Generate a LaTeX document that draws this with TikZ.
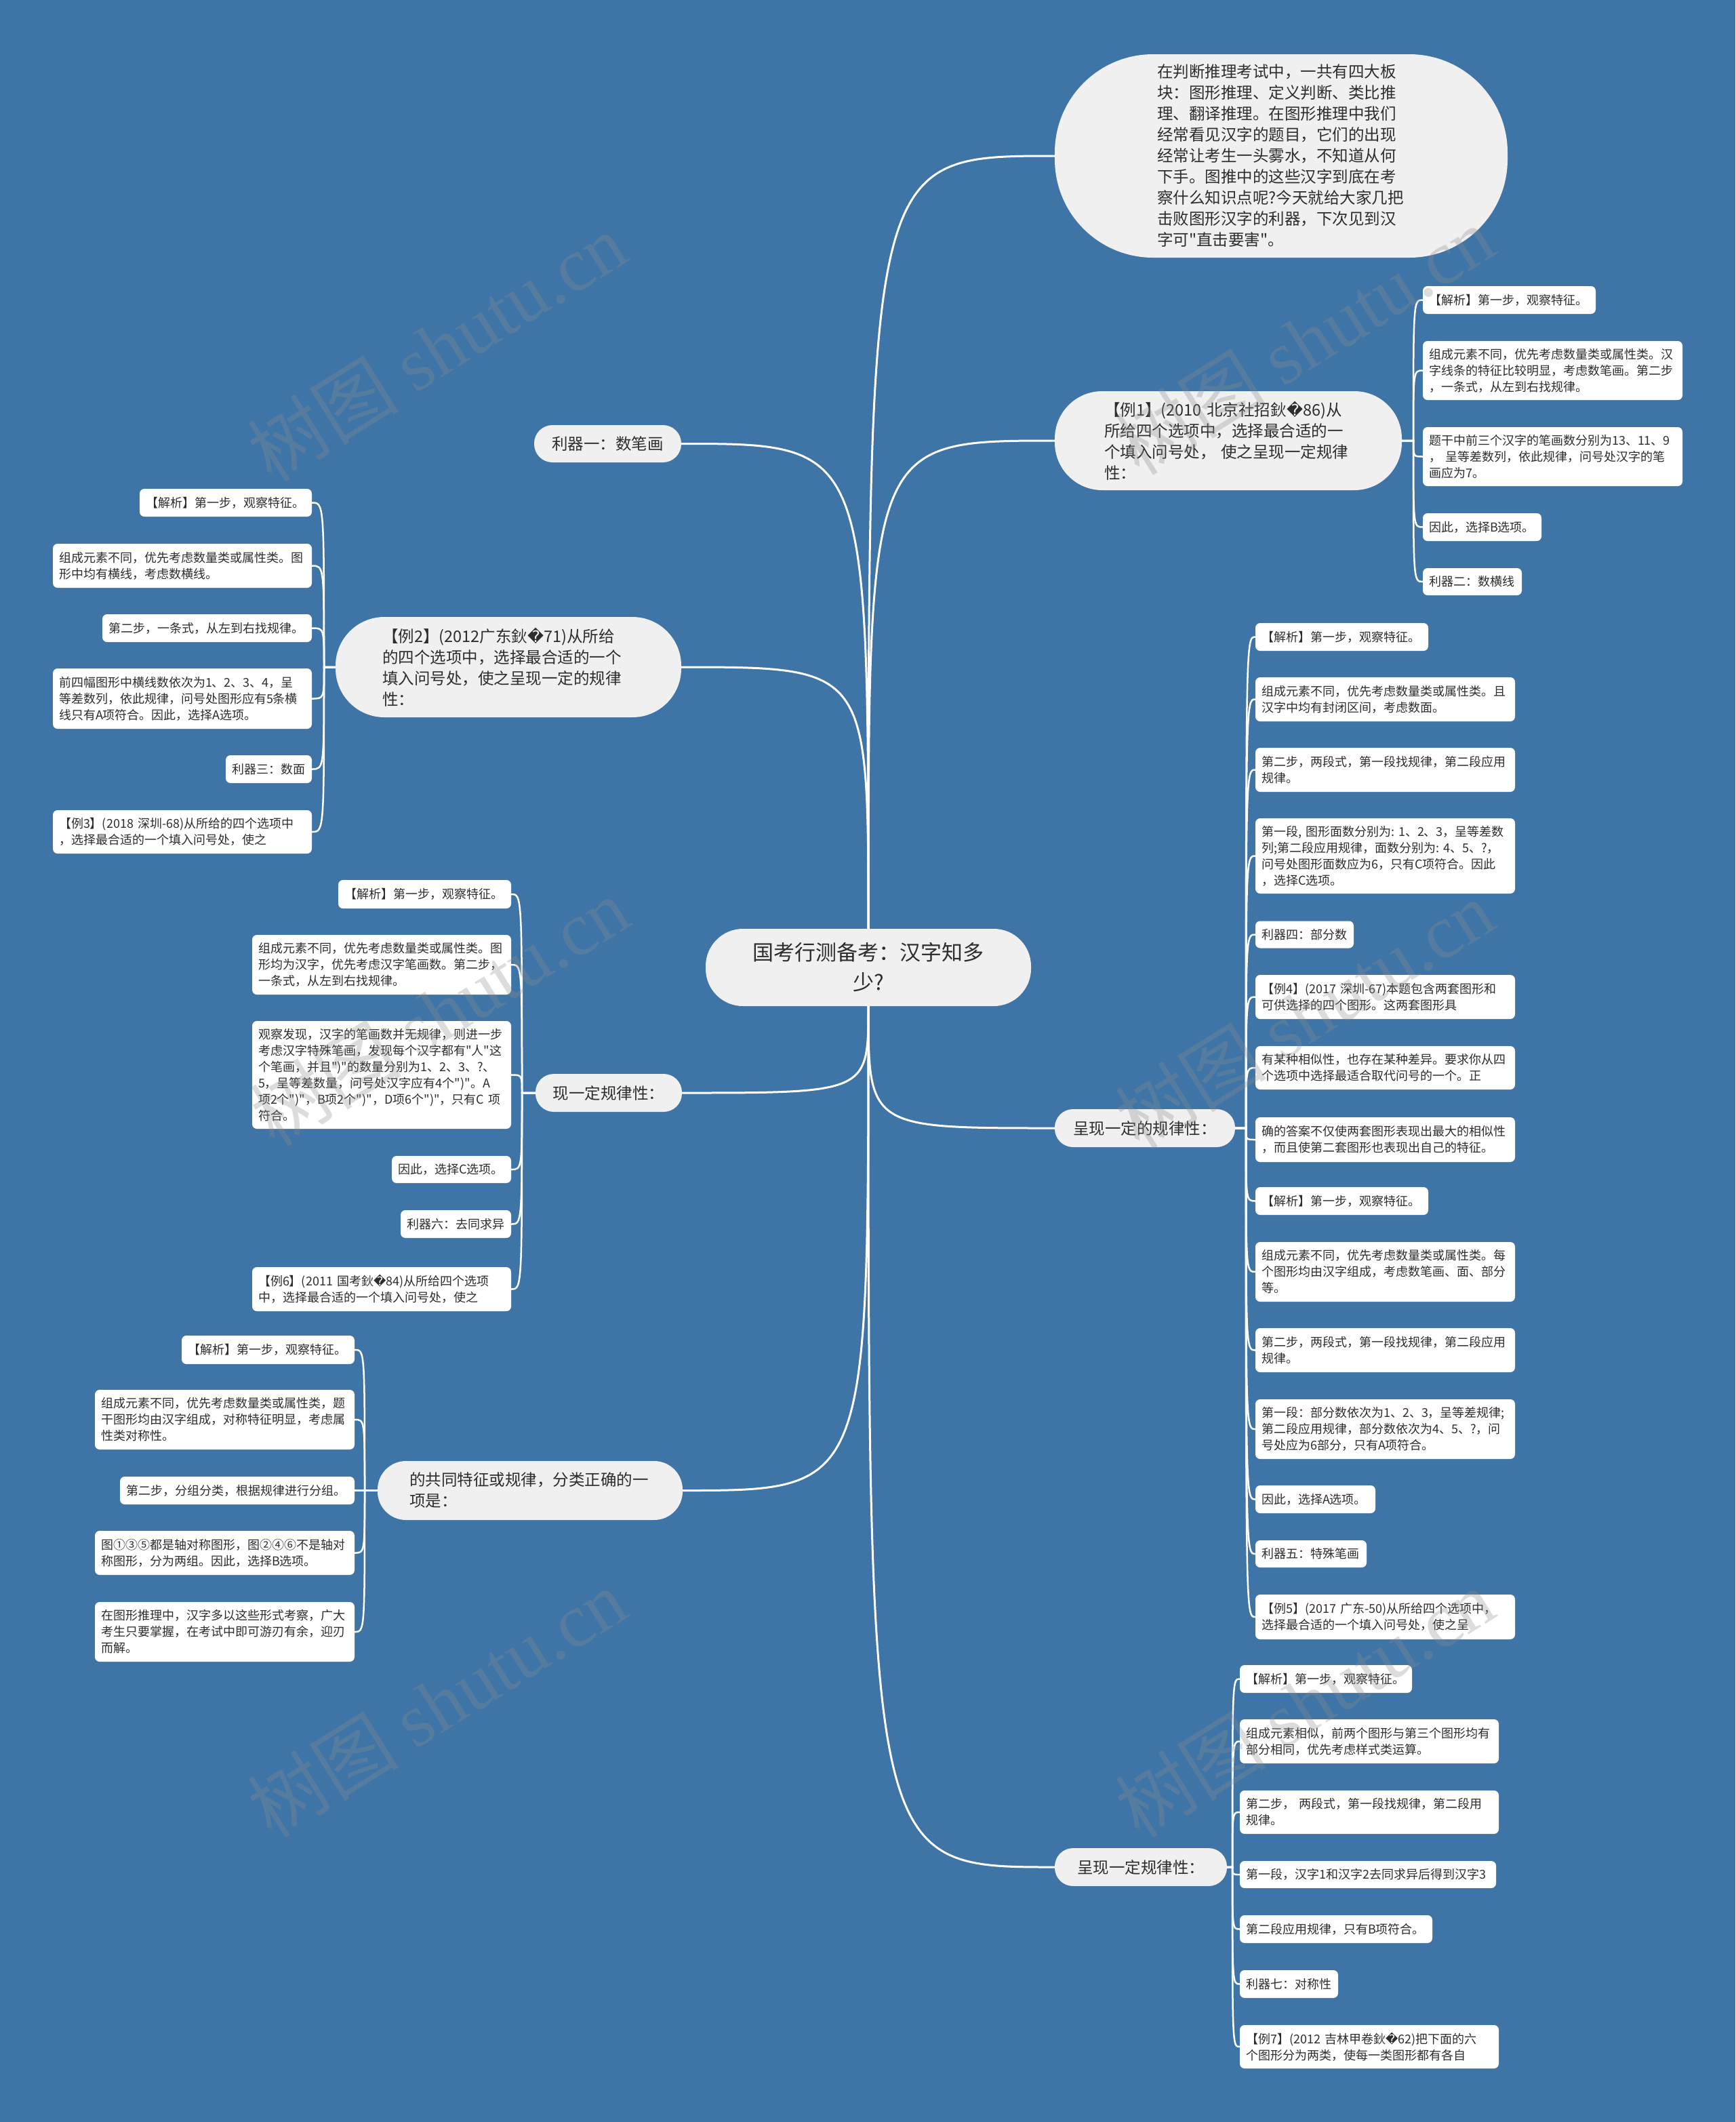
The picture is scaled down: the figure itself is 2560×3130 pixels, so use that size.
\documentclass[tikz,border=0pt]{standalone}
\usepackage{fontspec}
\setmainfont{Noto Sans CJK SC}
\newfontfamily\qfont{Noto Sans CJK SC}
\newfontfamily\dejavu{DejaVu Sans}
\newfontfamily\wmserif{Liberation Serif}
\usetikzlibrary{calc}
\definecolor{bg}{RGB}{62,116,166}
\definecolor{bub}{RGB}{240,240,240}
\definecolor{txt}{RGB}{45,45,45}
\newcommand\repch{{\dejavu\symbol{"FFFD}}}
\newcommand\qq{{\qfont\symbol{34}}}
\hfuzz=100pt
\hbadness=10000
\begin{document}
\begin{tikzpicture}[x=1pt,y=-1pt,
  leaf/.style={fill=white, rounded corners=7pt, inner xsep=9pt, inner ysep=0pt, align=left,
     font=\fontsize{18}{24}\selectfont, text=txt},
  bubble/.style={fill=bub, inner xsep=0pt, inner ysep=0pt, align=left,
     font=\fontsize{23.5}{31}\selectfont, text=txt},
  con1/.style={draw=white, line width=3pt},
  con2/.style={draw=white, line width=2.5pt},
  wm/.style={rotate=32, font=\fontsize{112}{112}\selectfont, text=black!45, opacity=0.3, inner sep=0pt}]
\path[use as bounding box] (0,0) rectangle (2560,3130);
\fill[bg] (0,0) rectangle (2560,3130);

% ---------- main nodes ----------
\node[bubble, align=center, font=\fontsize{31}{44}\selectfont, minimum width=480pt, minimum height=114pt, rounded corners=55pt] (root) at (1281,1427) {国考行测备考：汉字知多\\少?};

\node[bubble, text width=366pt, minimum width=668pt, minimum height=300pt, rounded corners=145pt] (A) at (1890,230) {在判断推理考试中，一共有四大板\\块：图形推理、定义判断、类比推\\理、翻译推理。在图形推理中我们\\经常看见汉字的题目，它们的出现\\经常让考生一头雾水，不知道从何\\下手。图推中的这些汉字到底在考\\察什么知识点呢?今天就给大家几把\\击败图形汉字的利器，下次见到汉\\字可\qq 直击要害\qq 。};

\node[bubble, text width=366pt, minimum width=512pt, minimum height=146pt, rounded corners=70pt] (B) at (1812,650) {【例1】(2010~北京社招鈥\repch{}86)从\\所给四个选项中，选择最合适的一\\个填入问号处，~使之呈现一定规律\\性：};

\node[bubble, align=center, minimum width=217pt, minimum height=55pt, rounded corners=27pt] (C) at (896.5,654.5) {利器一：数笔画};

\node[bubble, text width=372pt, minimum width=510pt, minimum height=148pt, rounded corners=72pt] (D) at (750,984) {【例2】(2012广东鈥\repch{}71)从所给\\的四个选项中，选择最合适的一个\\填入问号处，使之呈现一定的规律\\性：};

\node[bubble, align=center, minimum width=216pt, minimum height=56pt, rounded corners=27pt] (E) at (898,1612) {现一定规律性：};

\node[bubble, text width=356pt, minimum width=450pt, minimum height=87pt, rounded corners=42pt] (F) at (782,2198.5) {的共同特征或规律，分类正确的一\\项是：};

\node[bubble, align=center, minimum width=266pt, minimum height=56pt, rounded corners=27pt] (G) at (1689,1664) {呈现一定的规律性：};

\node[bubble, align=center, minimum width=254pt, minimum height=56pt, rounded corners=27pt] (H) at (1683,2754) {呈现一定规律性：};

% ---------- level 1 connectors ----------
\draw[con1] (root.north) .. controls (root.north |- A.west) .. (A.west);
\draw[con1] (root.north) .. controls (root.north |- B.west) .. (B.west);
\draw[con1] (root.north) .. controls (root.north |- C.east) .. (C.east);
\draw[con1] (root.north) .. controls (root.north |- D.east) .. (D.east);
\draw[con1] (root.south) .. controls (root.south |- E.east) .. (E.east);
\draw[con1] (root.south) .. controls (root.south |- F.east) .. (F.east);
\draw[con1] (root.south) .. controls (root.south |- G.west) .. (G.west);
\draw[con1] (root.south) .. controls (root.south |- H.west) .. (H.west);

% ---------- group B leaves ----------
\node[leaf, text width=237pt, minimum height=41pt] (T1) at (2226.5,442.5) {【解析】第一步，观察特征。};
\node[leaf, text width=365pt, minimum height=87pt] (T2) at (2290.5,546.5) {组成元素不同，优先考虑数量类或属性类。汉\\字线条的特征比较明显，考虑数笔画。第二步\\，一条式，从左到右找规律。};
\node[leaf, text width=365pt, minimum height=87pt] (T3) at (2290.5,673.5) {题干中前三个汉字的笔画数分别为13、11、9\\，~呈等差数列，依此规律，问号处汉字的笔\\画应为7。};
\node[leaf, text width=157pt, minimum height=41pt] (T4) at (2186.5,777.5) {因此，选择B选项。};
\node[leaf, text width=128pt, minimum height=40pt] (T5) at (2172,858) {利器二：数横线};
\coordinate (jB) at (2085,650);
\foreach \n in {T1,T2,T3,T4,T5}
  \draw[con2] (B.east) -- (jB) .. controls (jB |- \n.west) .. (\n.west);

% ---------- group D leaves ----------
\node[leaf, text width=236pt, minimum height=41pt] (L1) at (333,741.5) {【解析】第一步，观察特征。};
\node[leaf, text width=364pt, minimum height=65pt] (L2) at (269,834.5) {组成元素不同，优先考虑数量类或属性类。图\\形中均有横线，考虑数横线。};
\node[leaf, text width=291pt, minimum height=41pt] (L3) at (305.5,926.5) {第二步，一条式，从左到右找规律。};
\node[leaf, text width=364pt, minimum height=89pt] (L4) at (269,1030.5) {前四幅图形中横线数依次为1、2、3、4，呈\\等差数列，依此规律，问号处图形应有5条横\\线只有A项符合。因此，选择A选项。};
\node[leaf, text width=109pt, minimum height=41pt] (L5) at (396.5,1134.5) {利器三：数面};
\node[leaf, text width=364pt, minimum height=64pt] (L6) at (269,1227) {【例3】(2018~深圳-68)从所给的四个选项中\\，选择最合适的一个填入问号处，使之};
\coordinate (jD) at (478,984);
\foreach \n in {L1,L2,L3,L4,L5,L6}
  \draw[con2] (D.west) -- (jD) .. controls (jD |- \n.east) .. (\n.east);

% ---------- group E leaves ----------
\node[leaf, text width=237pt, minimum height=42pt] (M1) at (626.5,1319) {【解析】第一步，观察特征。};
\node[leaf, text width=364pt, minimum height=88pt] (M2) at (563,1423) {组成元素不同，优先考虑数量类或属性类。图\\形均为汉字，优先考虑汉字笔画数。第二步，\\一条式，从左到右找规律。};
\node[leaf, text width=364pt, minimum height=159pt] (M3) at (563,1585.5) {观察发现，汉字的笔画数并无规律，则进一步\\考虑汉字特殊笔画，发现每个汉字都有\qq 人\qq 这\\个笔画，并且\qq)\qq 的数量分别为1、2、3、?、\\5，呈等差数量，问号处汉字应有4个\qq)\qq 。A\\项2个\qq)\qq ，B项2个\qq)\qq ，D项6个\qq)\qq ，只有C~项\\符合。};
\node[leaf, text width=158pt, minimum height=40pt] (M4) at (666,1725) {因此，选择C选项。};
\node[leaf, text width=145pt, minimum height=41pt] (M5) at (672.5,1805.5) {利器六：去同求异};
\node[leaf, text width=364pt, minimum height=65pt] (M6) at (563,1901.5) {【例6】(2011~国考鈥\repch{}84)从所给四个选项\\中，选择最合适的一个填入问号处，使之};
\coordinate (jE) at (770,1612);
\foreach \n in {M1,M2,M3,M4,M5,M6}
  \draw[con2] (E.west) -- (jE) .. controls (jE |- \n.east) .. (\n.east);

% ---------- group F leaves ----------
\node[leaf, text width=237pt, minimum height=42pt] (N1) at (395.5,1991) {【解析】第一步，观察特征。};
\node[leaf, text width=365pt, minimum height=88pt] (N2) at (331.5,2094) {组成元素不同，优先考虑数量类或属性类，题\\干图形均由汉字组成，对称特征明显，考虑属\\性类对称性。};
\node[leaf, text width=328pt, minimum height=41pt] (N3) at (350,2198.5) {第二步，分组分类，根据规律进行分组。};
\node[leaf, text width=365pt, minimum height=65pt] (N4) at (331.5,2290.5) {图①③⑤都是轴对称图形，图②④⑥不是轴对\\称图形，分为两组。因此，选择B选项。};
\node[leaf, text width=365pt, minimum height=88pt] (N5) at (331.5,2407) {在图形推理中，汉字多以这些形式考察，广大\\考生只要掌握，在考试中即可游刃有余，迎刃\\而解。};
\coordinate (jF) at (538,2198.5);
\foreach \n in {N1,N2,N3,N4,N5}
  \draw[con2] (F.west) -- (jF) .. controls (jF |- \n.east) .. (\n.east);

% ---------- group G leaves ----------
\node[leaf, text width=237pt, minimum height=41pt] (R1) at (1979.5,939.5) {【解析】第一步，观察特征。};
\node[leaf, text width=365pt, minimum height=65pt] (R2) at (2043.5,1031.5) {组成元素不同，优先考虑数量类或属性类。且\\汉字中均有封闭区间，考虑数面。};
\node[leaf, text width=365pt, minimum height=65pt] (R3) at (2043.5,1135.5) {第二步，两段式，第一段找规律，第二段应用\\规律。};
\node[leaf, text width=365pt, minimum height=111pt] (R4) at (2043.5,1262.5) {第一段,~图形面数分别为:~1、2、3，呈等差数\\列;第二段应用规律，面数分别为:~4、5、?，\\问号处图形面数应为6，只有C项符合。因此\\，选择C选项。};
\node[leaf, text width=127pt, minimum height=40pt] (R5) at (1924.5,1378.5) {利器四：部分数};
\node[leaf, text width=365pt, minimum height=65pt] (R6) at (2043.5,1470.5) {【例4】(2017~深圳-67)本题包含两套图形和\\可供选择的四个图形。这两套图形具};
\node[leaf, text width=365pt, minimum height=64pt] (R7) at (2043.5,1575) {有某种相似性，也存在某种差异。要求你从四\\个选项中选择最适合取代问号的一个。正};
\node[leaf, text width=365pt, minimum height=66pt] (R8) at (2043.5,1681) {确的答案不仅使两套图形表现出最大的相似性\\，而且使第二套图形也表现出自己的特征。};
\node[leaf, text width=237pt, minimum height=41pt] (R9) at (1979.5,1771.5) {【解析】第一步，观察特征。};
\node[leaf, text width=365pt, minimum height=88pt] (R10) at (2043.5,1876) {组成元素不同，优先考虑数量类或属性类。每\\个图形均由汉字组成，考虑数笔画、面、部分\\等。};
\node[leaf, text width=365pt, minimum height=65pt] (R11) at (2043.5,1991.5) {第二步，两段式，第一段找规律，第二段应用\\规律。};
\node[leaf, text width=365pt, minimum height=88pt] (R12) at (2043.5,2108) {第一段：部分数依次为1、2、3，呈等差规律;\\第二段应用规律，部分数依次为4、5、?，问\\号处应为6部分，只有A项符合。};
\node[leaf, text width=159pt, minimum height=41pt] (R13) at (1940.5,2211.5) {因此，选择A选项。};
\node[leaf, text width=146pt, minimum height=40pt] (R14) at (1934,2292) {利器五：特殊笔画};
\node[leaf, text width=365pt, minimum height=66pt] (R15) at (2043.5,2385) {【例5】(2017~广东-50)从所给四个选项中，\\选择最合适的一个填入问号处，使之呈};
\coordinate (jG) at (1838,1664);
\foreach \n in {R1,R2,R3,R4,R5,R6,R7,R8,R9,R10,R11,R12,R13,R14,R15}
  \draw[con2] (G.east) -- (jG) .. controls (jG |- \n.west) .. (\n.west);

% ---------- group H leaves ----------
\node[leaf, text width=236pt, minimum height=41pt] (S1) at (1956,2476.5) {【解析】第一步，观察特征。};
\node[leaf, text width=364pt, minimum height=65pt] (S2) at (2020,2568.5) {组成元素相似，前两个图形与第三个图形均有\\部分相同，优先考虑样式类运算。};
\node[leaf, text width=364pt, minimum height=64pt] (S3) at (2020,2673) {第二步，~两段式，第一段找规律，第二段用\\规律。};
\node[leaf, text width=360pt, minimum height=40pt] (S4) at (2018,2765) {第一段，汉字1和汉字2去同求异后得到汉字3};
\node[leaf, text width=266pt, minimum height=41pt] (S5) at (1971,2845.5) {第二段应用规律，只有B项符合。};
\node[leaf, text width=127pt, minimum height=41pt] (S6) at (1901.5,2926.5) {利器七：对称性};
\node[leaf, text width=364pt, minimum height=64pt] (S7) at (2020,3019) {【例7】(2012~吉林甲卷鈥\repch{}62)把下面的六\\个图形分为两类，使每一类图形都有各自};
\coordinate (jH) at (1818,2754);
\foreach \n in {S1,S2,S3,S4,S5,S6,S7}
  \draw[con2] (H.east) -- (jH) .. controls (jH |- \n.west) .. (\n.west);

% ---------- watermarks ----------
\node[wm] (wm1) at (644,512) {树图 {\wmserif shutu.cn}};
\node[wm] (wm2) at (1924,502) {树图 {\wmserif shutu.cn}};
\node[wm] (wm3) at (648,1492) {树图 {\wmserif shutu.cn}};
\node[wm] (wm4) at (1924,1496) {树图 {\wmserif shutu.cn}};
\node[wm] (wm5) at (644,2512) {树图 {\wmserif shutu.cn}};
\node[wm] (wm6) at (1924,2512) {树图 {\wmserif shutu.cn}};
\end{tikzpicture}
\end{document}
